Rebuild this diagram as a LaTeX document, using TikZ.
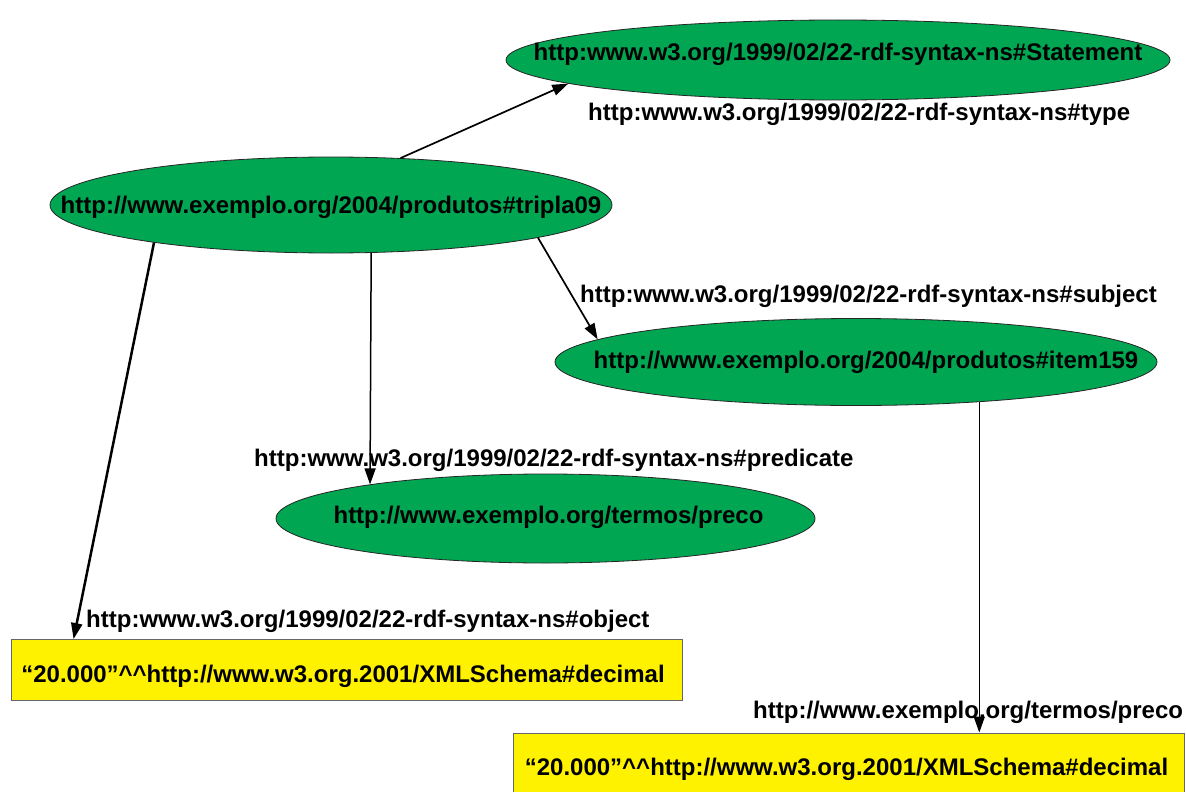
\documentclass[tikz,border=0pt]{standalone}
\usepackage{fontspec}
\setmainfont{Liberation Sans}
\usetikzlibrary{shapes.geometric,arrows.meta,calc}
\definecolor{rdfgreen}{HTML}{00A651}
\definecolor{lityellow}{HTML}{FFF200}
\tikzset{
  bigbold/.style={font=\fontsize{24}{28}\selectfont\bfseries},
  resource/.style={ellipse, draw=black!85, line width=0.8pt, fill=rdfgreen, inner sep=0pt},
  literal/.style={rectangle, draw=black!60, line width=0.9pt, fill=lityellow,
    inner sep=0pt, minimum width=671pt, minimum height=61pt},
  littext/.style={inner sep=0pt, bigbold},
  proplabel/.style={anchor=west, inner sep=0pt, bigbold},
  rel/.style={line width=1.7pt, -{Stealth[length=16pt,width=11pt,inset=0pt]}},
}
\begin{document}
\begin{tikzpicture}[x=1pt,y=-1pt]
  \useasboundingbox (0,0) rectangle (1186,792);
  \clip (0,0) rectangle (1186,792);

  % resources
  \node[resource, minimum width=664pt, minimum height=80pt,
        label={[bigbold, yshift=6pt]center:http:www.w3.org/1999/02/22-rdf-syntax-ns\#Statement}]
        (stmt) at (838,60) {};
  \node[resource, minimum width=562pt, minimum height=96pt,
        label={[bigbold, yshift=-2pt]center:http://www.exemplo.org/2004/produtos\#tripla09}]
        (tripla) at (331,205) {};
  \node[resource, minimum width=602pt, minimum height=87pt,
        label={[bigbold, xshift=10pt]center:http://www.exemplo.org/2004/produtos\#item159}]
        (item) at (856,362) {};
  \node[resource, minimum width=539pt, minimum height=89pt,
        label={[bigbold, xshift=3pt, yshift=1pt]center:http://www.exemplo.org/termos/preco}]
        (preco) at (545.5,518.5) {};

  % literals
  \node[literal] (lit1) at (346.5,670) {};
  \node[littext] (lit1t) at (343,676) {“20.000”\textasciicircum\textasciicircum http://www.w3.org.2001/XMLSchema\#decimal};
  \node[literal] (lit2) at (848.5,763.5) {};
  \node[littext] (lit2t) at (846.5,769) {“20.000”\textasciicircum\textasciicircum http://www.w3.org.2001/XMLSchema\#decimal};

  % property labels
  \node[proplabel] (ltype) at (588,114) {http:www.w3.org/1999/02/22-rdf-syntax-ns\#type};
  \node[proplabel] (lsubj) at (580,296) {http:www.w3.org/1999/02/22-rdf-syntax-ns\#subject};
  \node[proplabel] (lpred) at (254,460) {http:www.w3.org/1999/02/22-rdf-syntax-ns\#predicate};
  \node[proplabel] (lobj) at (86,621) {http:www.w3.org/1999/02/22-rdf-syntax-ns\#object};
  \node[proplabel] (lprec) at (753,712) {http://www.exemplo.org/termos/preco};

  % statement arcs
  \draw[rel] (tripla.34.8) -- (stmt.185.4);
  \draw[rel] (tripla.351.2) -- (item.175);
  \draw[rel, line width=1.5pt] (tripla.-50) -- (preco.169);
  \draw[rel, line width=2.5pt] (tripla.192) -- ($(lit1.north west)+(63,0)$);
  \draw[rel, line width=1.5pt] (item.-18.2) -- (item.-18.2 |- lit2.north);
\end{tikzpicture}
\end{document}
